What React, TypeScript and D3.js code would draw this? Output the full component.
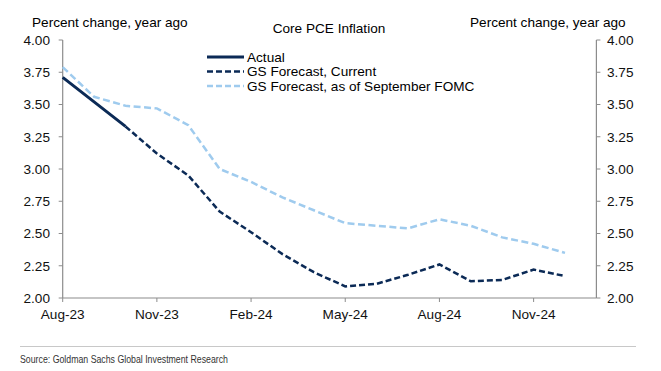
import React from 'react'
import {scaleLinear, line} from 'd3'

// months on the x axis, Aug-23 .. Jan-25
const months = [
  'Aug-23', 'Sep-23', 'Oct-23', 'Nov-23', 'Dec-23', 'Jan-24', 'Feb-24', 'Mar-24', 'Apr-24',
  'May-24', 'Jun-24', 'Jul-24', 'Aug-24', 'Sep-24', 'Oct-24', 'Nov-24', 'Dec-24', 'Jan-25'
]
const tickMonths = ['Aug-23', 'Nov-23', 'Feb-24', 'May-24', 'Aug-24', 'Nov-24']
const yTicks = [2.0, 2.25, 2.5, 2.75, 3.0, 3.25, 3.5, 3.75, 4.0]

// series, each starts at the month given
const actualStart = 'Aug-23'
const actual = [3.71, 3.52, 3.33]
const gsCurrentStart = 'Oct-23'
const gsCurrent = [3.33, 3.12, 2.95, 2.67, 2.51, 2.34, 2.2, 2.09, 2.11, 2.18, 2.26, 2.13, 2.14, 2.22, 2.17]
const gsSeptStart = 'Aug-23'
const gsSept = [3.79, 3.56, 3.49, 3.47, 3.34, 3.0, 2.9, 2.78, 2.68, 2.58, 2.56, 2.54, 2.61, 2.56, 2.47, 2.42, 2.35]

const W = 661
const H = 371
const margin = {top: 40, right: 65, bottom: 73, left: 62.7}
const font = 'Liberation Sans, Arial, sans-serif'
const fs = 13.6
const navy = '#0b2a56'
const light = '#9fcbee'
const axisGrey = '#8c8c8c'

export default function App() {
  const x = scaleLinear()
    .domain([0, months.length - 1])
    .range([margin.left, W - margin.right + 0.4])
  const y = scaleLinear().domain([2, 4]).range([H - margin.bottom, margin.top])

  const toPts = (start: string, vals: number[]) => {
    const s = months.indexOf(start)
    return vals.map((v, i) => [s + i, v] as [number, number])
  }
  const path = line<[number, number]>()
    .x(d => x(d[0]))
    .y(d => y(d[1]))

  const x0 = x.range()[0]
  const x1 = x.range()[1]
  const yb = y(2)
  const yt = y(4)

  const legend = [
    {label: 'Actual', color: navy, dash: 'none', w: 3},
    {label: 'GS Forecast, Current', color: navy, dash: '6 3', w: 2.5},
    {label: 'GS Forecast, as of September FOMC', color: light, dash: '6 3', w: 2.5}
  ]

  return (
    <svg width={W} height={H} style={{position: 'absolute', left: 0, top: 0, background: '#fff'}} fontFamily={font}>
      {/* titles */}
      <text x={32} y={27} fontSize={fs} fill="#000">Percent change, year ago</text>
      <text x={329} y={33} fontSize={fs} textAnchor="middle" fill="#000">Core PCE Inflation</text>
      <text x={470} y={27} fontSize={fs} fill="#000">Percent change, year ago</text>

      {/* axes */}
      <line x1={x0} x2={x0} y1={yt} y2={yb} stroke={axisGrey} strokeWidth={1.2} />
      <line x1={x1} x2={x1} y1={yt} y2={yb} stroke={axisGrey} strokeWidth={1.2} />
      <line x1={x0} x2={x1} y1={yb} y2={yb} stroke={axisGrey} strokeWidth={1.2} />
      {yTicks.map(t => (
        <g key={t}>
          <line x1={x0 - 4} x2={x0} y1={y(t)} y2={y(t)} stroke={axisGrey} />
          <text x={50} y={y(t) + 4.8} fontSize={fs} textAnchor="end" fill="#111">{t.toFixed(2)}</text>
          <line x1={x1} x2={x1 + 4} y1={y(t)} y2={y(t)} stroke={axisGrey} />
          <text x={607} y={y(t) + 4.8} fontSize={fs} fill="#111">{t.toFixed(2)}</text>
        </g>
      ))}
      {tickMonths.map(m => {
        const xi = x(months.indexOf(m))
        return (
          <g key={m}>
            <line x1={xi} x2={xi} y1={yb} y2={yb + 4} stroke={axisGrey} />
            <text x={xi} y={yb + 21} fontSize={fs} textAnchor="middle" fill="#111">{m}</text>
          </g>
        )
      })}

      {/* series */}
      <path d={path(toPts(gsSeptStart, gsSept)) || ''} fill="none" stroke={light} strokeWidth={2.5} strokeDasharray="7 3.5" />
      <path d={path(toPts(gsCurrentStart, gsCurrent)) || ''} fill="none" stroke={navy} strokeWidth={2.5} strokeDasharray="6 3" />
      <path d={path(toPts(actualStart, actual)) || ''} fill="none" stroke={navy} strokeWidth={3} />

      {/* legend */}
      {legend.map((l, i) => (
        <g key={l.label} transform={`translate(207, ${57 + i * 14.5})`}>
          <line x1={0} x2={37} y1={0} y2={0} stroke={l.color} strokeWidth={l.w} strokeDasharray={l.dash} />
          <text x={40} y={4.8} fontSize={fs} fill="#000">{l.label}</text>
        </g>
      ))}

      {/* footer */}
      <line x1={20} x2={636} y1={346.5} y2={346.5} stroke="#c8c8c8" strokeWidth={1.2} />
      <text x={20} y={363} fontSize={10.5} fill="#333" textLength={208} lengthAdjust="spacingAndGlyphs">Source: Goldman Sachs Global Investment Research</text>
    </svg>
  )
}
